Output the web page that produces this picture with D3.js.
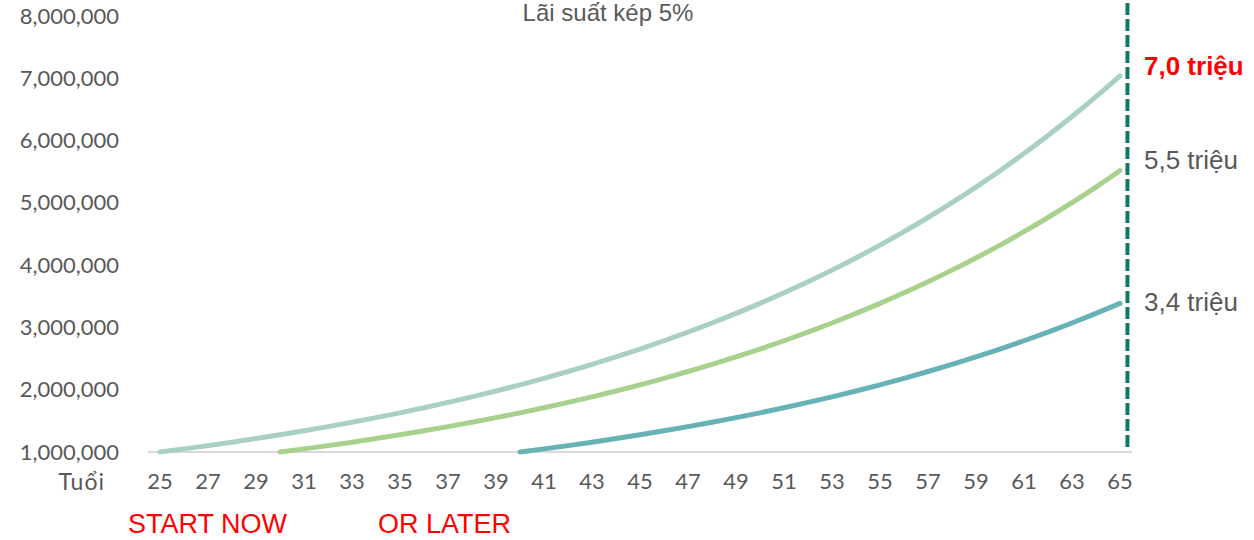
<!DOCTYPE html>
<html>
<head>
<meta charset="utf-8">
<script src="https://cdn.jsdelivr.net/npm/d3@7"></script>
<style>
  html, body { margin: 0; padding: 0; background: #ffffff; }
  svg { display: block; }
</style>
</head>
<body>
<svg id="chart" width="1254" height="540"></svg>
<script>
// ---------- data ----------
const ages = [25,26,27,28,29,30,31,32,33,34,35,36,37,38,39,40,41,42,43,44,45,46,47,48,49,50,51,52,53,54,55,56,57,58,59,60,61,62,63,64,65];

// start at 25
const seriesStart25 = [1000000,1050000,1102500,1157625,1215506,1276282,1340096,1407100,1477455,1551328,1628895,1710339,1795856,1885649,1979932,2078928,2182875,2292018,2406619,2526950,2653298,2785963,2925261,3071524,3225100,3386355,3555673,3733456,3920129,4116136,4321942,4538039,4764941,5003189,5253348,5516015,5791816,6081407,6385477,6704751,7039989];
// start at 30
const seriesStart30 = [null,null,null,null,null,1000000,1050000,1102500,1157625,1215506,1276282,1340096,1407100,1477455,1551328,1628895,1710339,1795856,1885649,1979932,2078928,2182875,2292018,2406619,2526950,2653298,2785963,2925261,3071524,3225100,3386355,3555673,3733456,3920129,4116136,4321942,4538039,4764941,5003189,5253348,5516015];
// start at 40
const seriesStart40 = [null,null,null,null,null,null,null,null,null,null,null,null,null,null,null,1000000,1050000,1102500,1157625,1215506,1276282,1340096,1407100,1477455,1551328,1628895,1710339,1795856,1885649,1979932,2078928,2182875,2292018,2406619,2526950,2653298,2785963,2925261,3071524,3225100,3386355];

const seriesNames = ["Bắt đầu 25 tuổi", "Bắt đầu 30 tuổi", "Bắt đầu 40 tuổi"];
const endLabels = ["7,0 triệu", "5,5 triệu", "3,4 triệu"];
const yTicks = [1000000,2000000,3000000,4000000,5000000,6000000,7000000,8000000];
const xTickAges = [25,27,29,31,33,35,37,39,41,43,45,47,49,51,53,55,57,59,61,63,65];
const titleText = "Lãi suất kép 5%";
const xAxisName = "Tuổi";
const footLabels = ["START NOW", "OR LATER"];
const footAges = [25, 35];

// ---------- styles ----------
const lineColors = ["#a9d0c3", "#a9d18e", "#66b2b4"];
const labelColors = ["#ff0000", "#595959", "#595959"];
const labelWeights = ["bold", "normal", "normal"];
const labelDy = [-10, -11, -1];
const footDx = [-20, -10];
const textGrey = "#595959";
const tickFont = "Lato, 'Open Sans', sans-serif";
const arialFont = "'Liberation Sans', Arial, sans-serif";

// ---------- scales ----------
const svg = d3.select("#chart");
const plotLeft = 148, plotRight = 1132, plotTop = 16, plotBottom = 452;

const x = d3.scaleBand().domain(ages).range([plotLeft, plotRight]).padding(0);
const cx = a => x(a) + x.bandwidth() / 2;
const y = d3.scaleLinear().domain([1000000, 8000000]).range([plotBottom, plotTop]);

// ---------- baseline (category axis line) ----------
svg.append("line")
  .attr("x1", plotLeft).attr("x2", plotRight)
  .attr("y1", y(1000000)).attr("y2", y(1000000))
  .attr("stroke", "#d9d9d9").attr("stroke-width", 2);

// ---------- y axis labels ----------
const yAxis = d3.axisLeft(y).tickValues(yTicks).tickFormat(d3.format(",")).tickSize(0).tickPadding(29);
const gy = svg.append("g").attr("transform", `translate(${plotLeft},0)`).call(yAxis);
gy.select(".domain").remove();
gy.selectAll("text")
  .attr("fill", textGrey)
  .style("font-family", tickFont)
  .style("font-size", "22px");

// ---------- x axis labels ----------
const xAxis = d3.axisBottom(x).tickValues(xTickAges).tickSize(0).tickPadding(21);
const gx = svg.append("g").attr("transform", `translate(0,${plotBottom})`).call(xAxis);
gx.select(".domain").remove();
gx.selectAll("text")
  .attr("fill", textGrey)
  .style("font-family", tickFont)
  .style("font-size", "22px");

svg.append("text")
  .attr("x", 105).attr("y", 490)
  .attr("text-anchor", "end")
  .attr("fill", textGrey)
  .style("font-family", tickFont)
  .style("font-size", "23px")
  .style("letter-spacing", "1px")
  .text(xAxisName);

// ---------- dashed vertical line ----------
const lastAge = ages[ages.length - 1];
svg.append("line")
  .attr("x1", cx(lastAge) + x.bandwidth() * 0.31)
  .attr("x2", cx(lastAge) + x.bandwidth() * 0.31)
  .attr("y1", 3).attr("y2", 447)
  .attr("stroke", "#117a65")
  .attr("stroke-width", 4)
  .attr("stroke-dasharray", "12,4");

// ---------- lines ----------
const allSeries = [seriesStart25, seriesStart30, seriesStart40];
const line = d3.line()
  .defined(d => d.v != null)
  .x(d => cx(d.a))
  .y(d => y(d.v))
  .curve(d3.curveMonotoneX);

allSeries.forEach((s, i) => {
  const pts = ages.map((a, j) => ({ a: a, v: s[j] }));
  svg.append("path")
    .datum(pts)
    .attr("fill", "none")
    .attr("stroke", lineColors[i])
    .attr("stroke-width", 5)
    .attr("stroke-linecap", "round")
    .attr("d", line)
    .append("title").text(seriesNames[i]);
});

// ---------- end labels ----------
allSeries.forEach((s, i) => {
  const v = s[s.length - 1];
  svg.append("text")
    .attr("x", 1144)
    .attr("y", y(v) + labelDy[i])
    .attr("dominant-baseline", "central")
    .attr("fill", labelColors[i])
    .attr("font-weight", labelWeights[i])
    .style("font-family", arialFont)
    .style("font-size", "26px")
    .text(endLabels[i]);
});

// ---------- title ----------
svg.append("text")
  .attr("x", 608).attr("y", 21)
  .attr("text-anchor", "middle")
  .attr("fill", textGrey)
  .style("font-family", arialFont)
  .style("font-size", "24px")
  .text(titleText);

// ---------- foot labels ----------
footLabels.forEach((t, i) => {
  svg.append("text")
    .attr("x", x(footAges[i]) + footDx[i])
    .attr("y", 533)
    .attr("fill", "#ff0000")
    .style("font-family", arialFont)
    .style("font-size", "27px")
    .text(t);
});
</script>
</body>
</html>
